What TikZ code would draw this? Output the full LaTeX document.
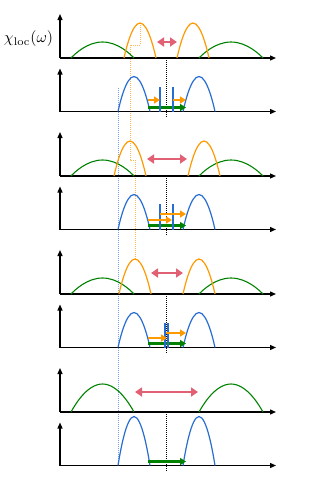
\documentclass[tikz,border=0pt]{standalone}
\usetikzlibrary{arrows.meta}
\definecolor{cgreen}{RGB}{0,130,0}
\definecolor{corange}{RGB}{255,153,0}
\definecolor{cblue}{RGB}{40,110,210}
\definecolor{cpink}{RGB}{226,96,116}
\definecolor{lblue}{RGB}{120,165,235}
\definecolor{lorange}{RGB}{255,185,90}
\tikzset{
  axis/.style={line width=1.3pt,-{Triangle[length=6pt,width=5pt]}},
  gdome/.style={cgreen,line width=1.1pt},
  odome/.style={corange,line width=1.2pt},
  bdome/.style={cblue,line width=1.2pt},
  bpeak/.style={cblue,line width=1.1pt},
  oarr/.style={corange,line width=2.2pt,-{Triangle[length=6pt,width=7pt]}},
  garr/.style={cgreen,line width=2.2pt,-{Triangle[length=6pt,width=7pt]}},
  parr/.style={cpink,line width=2.6pt,{Triangle[length=7pt,width=9pt]}-{Triangle[length=7pt,width=9pt]}},
  zero/.style={black,line width=0.9pt,dash pattern=on 1pt off 1pt},
  bguide/.style={lblue,line width=0.8pt,dash pattern=on 1pt off 1pt},
  oguide/.style={lorange,line width=0.9pt,dash pattern=on 1pt off 1pt},
}
\begin{document}
\begin{tikzpicture}[x=1pt,y=-1pt]
\useasboundingbox (0,0) rectangle (332,491);
% guides
\draw[bguide] (118,88) -- (118,465);
\draw[oguide] (140,23) -- (140,45) -- (130,45) -- (130,160) -- (135,160) -- (135,259);
% panels
\foreach \k/\hg/\hb in {0/16/35,1/16/35,2/16/35,3/28/49}{
  \pgfmathsetmacro{\T}{58+118*\k}
  \pgfmathsetmacro{\B}{111.5+118*\k}
  \draw[zero] (166.5,\T) -- (166.5,\B+6);
  \draw[axis] (60,\T) -- (60,\T-44);
  \draw[axis] (60,\T) -- (276,\T);
  \draw[axis] (60,\B) -- (60,\B-43);
  \draw[axis] (60,\B) -- (276,\B);
  \draw[gdome] (71,\T) parabola bend (102.5,\T-\hg) (134,\T);
  \draw[gdome] (199,\T) parabola bend (231,\T-\hg) (263,\T);
  \draw[bdome] (118,\B) parabola bend (134,\B-\hb) (150,\B);
  \draw[bdome] (183,\B) parabola bend (199,\B-\hb) (215,\B);
  \draw[garr] (148,\B-4) -- (186,\B-4);
}
% orange domes
\draw[odome] (124,58) parabola bend (140,23) (156,58);
\draw[odome] (177,58) parabola bend (193,23) (209,58);
\draw[odome] (114,176) parabola bend (130,141) (146,176);
\draw[odome] (188,176) parabola bend (204,141) (220,176);
\draw[odome] (119,294) parabola bend (135,259) (151,294);
\draw[odome] (183,294) parabola bend (199,259) (215,294);
% pink arrows
\draw[parr] (157,42) -- (177,42);
\draw[parr] (147,159) -- (187,159);
\draw[parr] (151,273) -- (183,273);
\draw[parr] (135,392) -- (198,392);
% sharp peaks
\draw[bpeak] (160,111.5) -- (160,87);
\draw[bpeak] (173,111.5) -- (173,87);
\draw[bpeak] (160,229.5) -- (160,204);
\draw[bpeak] (173,229.5) -- (173,204);
\draw[bpeak] (165,347.5) -- (165,323);
\draw[bpeak] (168,347.5) -- (168,323);
% orange arrows
\draw[oarr] (148,100) -- (160,100);
\draw[oarr] (173,100) -- (186,100);
\draw[oarr] (148,220) -- (172,220);
\draw[oarr] (160,214) -- (186,214);
\draw[oarr] (148,338) -- (167,338);
\draw[oarr] (166,333) -- (186,333);
% label
\node[scale=1.58] (lab) at (28.5,39) {$\chi_{\mathrm{loc}}(\omega)$};
\end{tikzpicture}
\end{document}
